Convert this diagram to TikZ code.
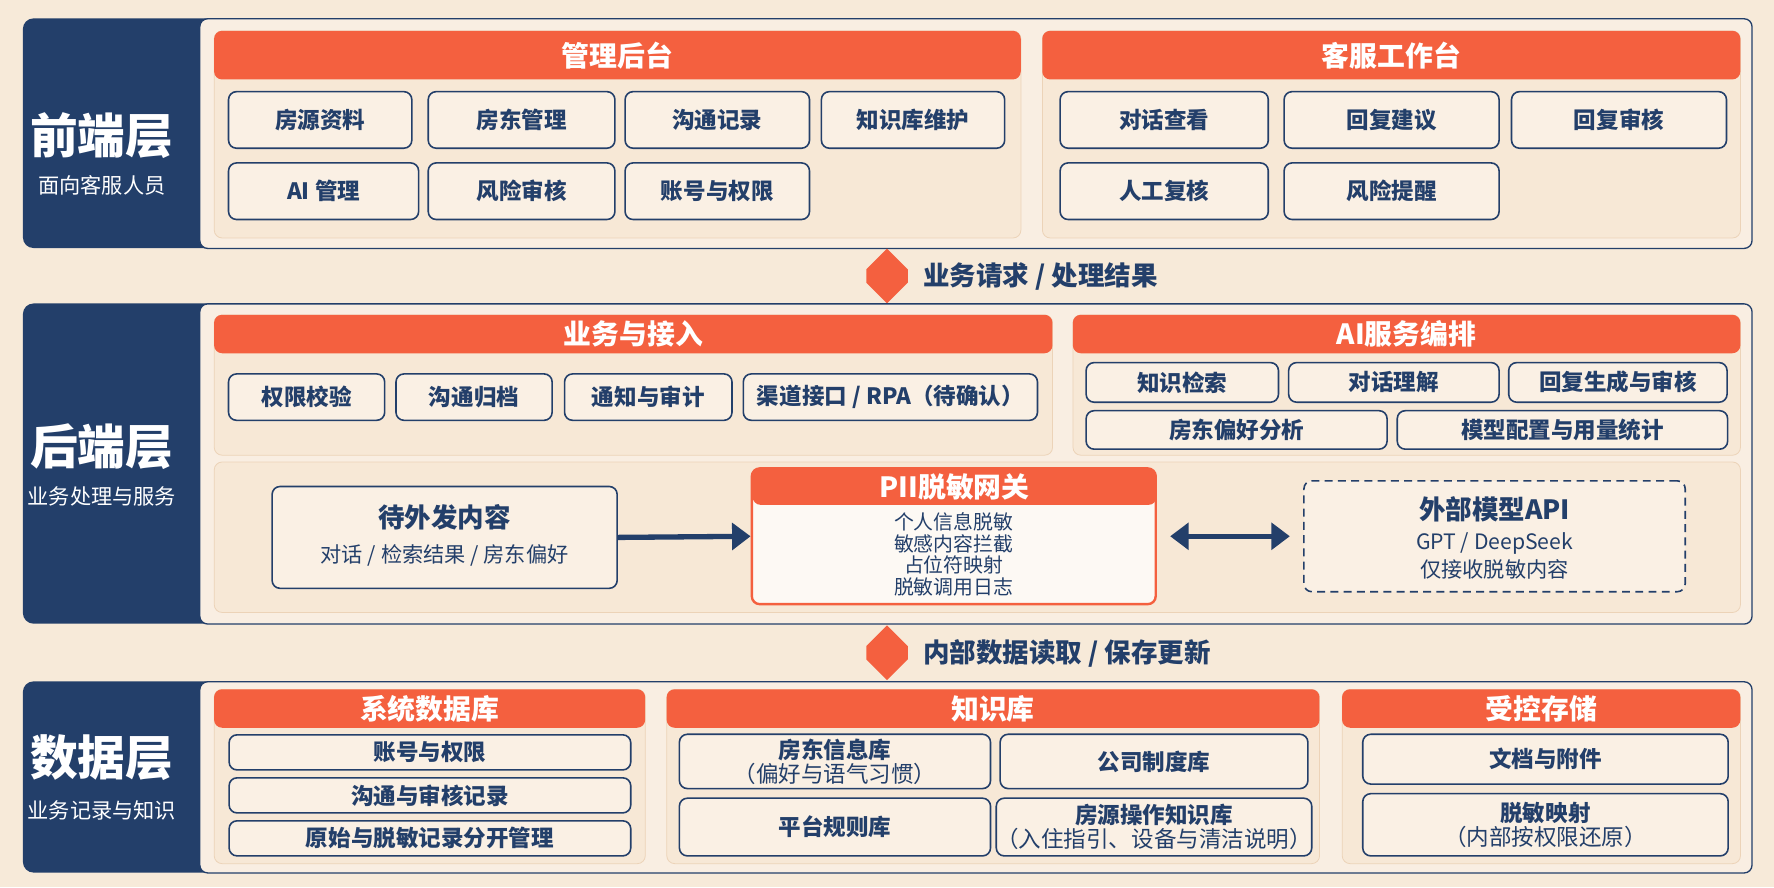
\documentclass[tikz,border=0pt]{standalone}
\usepackage{fontspec}
\setmainfont{Noto Sans CJK SC}
\usetikzlibrary{arrows.meta,shapes.arrows,positioning}
\definecolor{bgc}{HTML}{F7EAD9}
\definecolor{navy}{HTML}{233F6A}
\definecolor{orng}{HTML}{F4603F}
\definecolor{panelc}{HTML}{F9EEE2}
\definecolor{groupc}{HTML}{F7E8D6}
\definecolor{itemc}{HTML}{FAF0E4}
\tikzset{
  sz/.style 2 args={minimum width=#1*0.03cm, minimum height=#2*0.03cm, inner sep=0pt},
  layer/.style={fill=navy, rounded corners=8pt, anchor=north west},
  panel/.style={fill=panelc, draw=navy, line width=1pt, rounded corners=6pt, anchor=north west},
  group/.style={fill=groupc, draw=groupc!80!brown, line width=0.6pt, rounded corners=6pt, anchor=north west},
  head/.style={fill=orng, rounded corners=6pt, anchor=north west, text=white, font=\fontsize{21}{24}\selectfont\bfseries},
  item/.style={fill=itemc, draw=navy, line width=1.2pt, rounded corners=6pt, text=navy, font=\fontsize{17}{20}\selectfont\bfseries, align=center},
  ltitle/.style={text=white, font=\fontsize{36}{40}\selectfont\bfseries},
  lsub/.style={text=white, font=\fontsize{16}{19}\selectfont},
  flow/.style={single arrow, fill=orng, minimum height=1.45cm, minimum width=1.1cm, single arrow head extend=0pt, inner sep=0pt, shape border rotate=90},
  flowlabel/.style={anchor=west, text=navy, font=\fontsize{20}{24}\selectfont\bfseries},
  navyarrow/.style={navy, line width=4pt, -{Triangle[length=14pt,width=20pt]}},
}
\begin{document}
\begin{tikzpicture}[x=0.03cm, y=-0.03cm]
\useasboundingbox[fill=bgc] (0,0) rectangle (1568,784);

%Front layer
\node[layer, sz={200}{203}] (front) at (20,16) {};
\node[panel, sz={1372}{203}] (frontpanel) at (176,16) {};
\node[ltitle] (fronttitle) at (90,120) {前端层};
\node[lsub] (frontsub) at (90,164) {面向客服人员};

\node[group, sz={713}{183}] (admin) at (189,27) {};
\node[head, sz={713}{43}] (adminhead) at (189,27) {管理后台};
\node[item, sz={162}{50}] (house) at (283,106) {房源资料};
\node[item, sz={165}{50}] (landlord) at (461,106) {房东管理};
\node[item, sz={163}{50}] (comm) at (634,106) {沟通记录};
\node[item, sz={162}{50}] (kbmaint) at (807,106) {知识库维护};
\node[item, sz={168}{50}] (aimgr) at (286,169) {AI 管理};
\node[item, sz={165}{50}] (riskaudit) at (461,169) {风险审核};
\node[item, sz={163}{50}] (account) at (634,169) {账号与权限};

\node[group, sz={617}{183}] (desk) at (921,27) {};
\node[head, sz={617}{43}] (deskhead) at (921,27) {客服工作台};
\node[item, sz={184}{50}] (dialog) at (1029,106) {对话查看};
\node[item, sz={190}{50}] (suggest) at (1230,106) {回复建议};
\node[item, sz={190}{50}] (review) at (1431,106) {回复审核};
\node[item, sz={184}{50}] (manual) at (1029,169) {人工复核};
\node[item, sz={190}{50}] (riskalert) at (1230,169) {风险提醒};

% Between front and back
\node[flow, double arrow, double arrow head extend=0pt] (req) at (784,244) {};
\node[flowlabel] (reqlabel) at (812,244) {业务请求 / 处理结果};

%Back layer
\node[layer, sz={200}{283}] (back) at (20,268) {};
\node[panel, sz={1372}{283}] (backpanel) at (176,268) {};
\node[ltitle] (backtitle) at (90,395) {后端层};
\node[lsub] (backsub) at (90,439) {业务处理与服务};

\node[group, sz={741}{124}] (access) at (189,278) {};
\node[head, sz={741}{34}] (accesshead) at (189,278) {业务与接入};
\node[item, sz={138}{41}] (perm) at (271,351) {权限校验};
\node[item, sz={138}{41}] (archive) at (419,351) {沟通归档};
\node[item, sz={148}{41}] (notify) at (573,351) {通知与审计};
\node[item, sz={260}{41}] (channel) at (787,351) {渠道接口 / RPA（待确认）};

\node[group, sz={590}{124}] (aiorch) at (948,278) {};
\node[head, sz={590}{34}] (aiorchhead) at (948,278) {AI服务编排};
\node[item, sz={170}{35}] (kbsearch) at (1045,338) {知识检索};
\node[item, sz={186}{35}] (understand) at (1232,338) {对话理解};
\node[item, sz={193}{35}] (gen) at (1430,338) {回复生成与审核};
\node[item, sz={266}{34}] (pref) at (1093,380) {房东偏好分析};
\node[item, sz={292}{34}] (config) at (1381,380) {模型配置与用量统计};

\node[group, sz={1349}{133}] (gatewayarea) at (189,408) {};
\node[item, sz={305}{90}, align=center] (outgoing) at (393,475) {};
\node[text=navy, font=\fontsize{20}{24}\selectfont\bfseries] (outtitle) at (393,457) {待外发内容};
\node[text=navy, font=\fontsize{16}{19}\selectfont] (outsub) at (393,491) {对话 / 检索结果 / 房东偏好};

\node[item, draw=orng, fill=white!60!itemc, line width=1.8pt, sz={357}{120}] (pii) at (843,474) {};
\node[head, sz={357}{32}] (piihead) at (665,414) {PII脱敏网关};
\node[text=navy, font=\fontsize{15}{16.5}\selectfont, align=center] (piilist) at (843,490) {个人信息脱敏\\敏感内容拦截\\占位符映射\\脱敏调用日志};

\node[item, dashed, dash pattern=on 6pt off 4pt, sz={337}{98}] (extapi) at (1321,474) {};
\node[text=navy, font=\fontsize{20}{24}\selectfont\bfseries] (exttitle) at (1321,450) {外部模型API};
\node[text=navy, font=\fontsize{16}{19}\selectfont, align=center] (extsub) at (1321,491) {GPT / DeepSeek\\[2pt]仅接收脱敏内容};

\draw[navyarrow] (outgoing.east) -- (pii.west);
\draw[navyarrow, {Triangle[length=14pt,width=20pt]}-{Triangle[length=14pt,width=20pt]}] ([xshift=-10pt]extapi.west) -- ([xshift=10pt]pii.east);

% Between back and data
\node[flow, double arrow, double arrow head extend=0pt] (data) at (784,577) {};
\node[flowlabel] (datalabel) at (812,578) {内部数据读取 / 保存更新};

%Data layer
\node[layer, sz={200}{169}] (datalayer) at (20,602) {};
\node[panel, sz={1372}{169}] (datapanel) at (176,602) {};
\node[ltitle] (datatitle) at (90,670) {数据层};
\node[lsub] (datasub) at (90,716) {业务记录与知识};

\node[group, sz={381}{154}] (sysdb) at (189,609) {};
\node[head, sz={381}{34}] (sysdbhead) at (189,609) {系统数据库};
\node[item, sz={355}{31}] (acctperm) at (380,665) {账号与权限};
\node[item, sz={355}{31}] (commrec) at (380,703) {沟通与审核记录};
\node[item, sz={355}{31}] (rawsplit) at (380,741) {原始与脱敏记录分开管理};

\node[group, sz={577}{154}] (kb) at (589,609) {};
\node[head, sz={577}{34}] (kbhead) at (589,609) {知识库};
\node[item, sz={275}{48}] (llinfo) at (738,673) {房东信息库\\[-2pt]{\mdseries（偏好与语气习惯）}};
\node[item, sz={272}{48}] (policy) at (1020,673) {公司制度库};
\node[item, sz={275}{51}] (platform) at (738,731) {平台规则库};
\node[item, sz={272}{51}] (ops) at (1020,731) {房源操作知识库\\[-2pt]{\mdseries（入住指引、设备与清洁说明）}};

\node[group, sz={352}{154}] (store) at (1186,609) {};
\node[head, sz={352}{34}] (storehead) at (1186,609) {受控存储};
\node[item, sz={323}{44}] (docs) at (1366,671) {文档与附件};
\node[item, sz={323}{55}] (maskmap) at (1366,729) {脱敏映射\\[-2pt]{\mdseries（内部按权限还原）}};
\end{tikzpicture}
\end{document}
